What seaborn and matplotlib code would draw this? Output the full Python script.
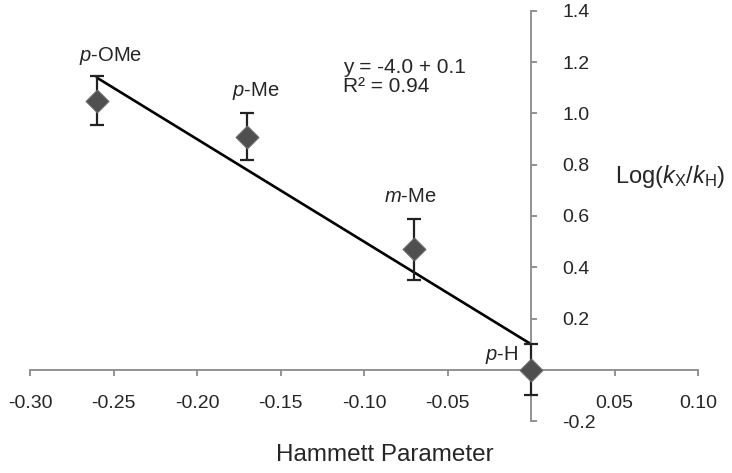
import numpy as np
import pandas as pd
import matplotlib
matplotlib.use("Agg")
import matplotlib.pyplot as plt
import seaborn as sns

# values
substituents = ["p-OMe", "p-Me", "m-Me", "p-H"]
sigma = [-0.26, -0.17, -0.07, 0.0]
log_k = [1.05, 0.91, 0.47, 0.0]
err = [0.095, 0.09, 0.12, 0.10]

# linear fit drawn in the original (y = -4.0x + 0.1)
fit_x = [-0.26, 0.0]
fit_y = [1.14, 0.10]

x_ticks = [-0.30, -0.25, -0.20, -0.15, -0.10, -0.05, 0.0, 0.05, 0.10]
x_ticklabels = ["-0.30", "-0.25", "-0.20", "-0.15", "-0.10", "-0.05", "", "0.05", "0.10"]
y_ticks = [-0.2, 0.0, 0.2, 0.4, 0.6, 0.8, 1.0, 1.2, 1.4]
y_ticklabels = ["-0.2", "", "0.2", "0.4", "0.6", "0.8", "1.0", "1.2", "1.4"]

df = pd.DataFrame({"sub": substituents, "sigma": sigma, "logk": log_k, "err": err})
fit = pd.DataFrame({"x": fit_x, "y": fit_y})

sns.set_style("white")
plt.rcParams["font.family"] = ["Liberation Sans", "DejaVu Sans"]
plt.rcParams["mathtext.fontset"] = "custom"
plt.rcParams["mathtext.rm"] = "Liberation Sans"
plt.rcParams["mathtext.it"] = "Liberation Sans:italic"

fig = plt.figure(figsize=(7.32, 4.73), dpi=100)
ax = fig.add_axes([30 / 732, 1 - 421 / 473, 668 / 732, 410 / 473])

sns.lineplot(data=fit, x="x", y="y", color="black", linewidth=1.9, ax=ax, zorder=2)
ax.errorbar(df["sigma"], df["logk"], yerr=df["err"], fmt="none", ecolor="#222222",
            elinewidth=1.6, capsize=5, capthick=1.6, zorder=3)
sns.scatterplot(data=df, x="sigma", y="logk", marker="D", s=135, color="#4f4f4f",
                edgecolor="#6a6a6a", linewidth=0.8, ax=ax, zorder=4)

# substituent labels (offsets in pixels from each point)
offsets = {"p-OMe": (14, 45), "p-Me": (9, 46), "m-Me": (-4, 53), "p-H": (-29, 15)}
for _, row in df.iterrows():
    a, b = row["sub"].split("-")
    ax.annotate(f"${a}$-{b}", (row["sigma"], row["logk"]), xytext=offsets[row["sub"]],
                textcoords="offset pixels", ha="center", va="center", fontsize=14.5)

ax.text(0.4686, 0.863, "y = -4.0 + 0.1", transform=ax.transAxes, fontsize=15, va="center")
ax.text(0.4686, 0.815, "R² = 0.94", transform=ax.transAxes, fontsize=15, va="center")

ax.set_xlim(-0.30, 0.10)
ax.set_ylim(-0.2, 1.4)

ax.spines["top"].set_visible(False)
ax.spines["left"].set_visible(False)
ax.spines["right"].set_position(("data", 0))
ax.spines["bottom"].set_position(("data", 0))
for s in ["right", "bottom"]:
    ax.spines[s].set_color("#8a8a8a")
    ax.spines[s].set_linewidth(1.3)

ax.yaxis.tick_right()
ax.set_xticks(x_ticks)
ax.set_xticklabels(x_ticklabels)
ax.set_yticks(y_ticks)
ax.set_yticklabels(y_ticklabels)
ax.tick_params(axis="x", direction="out", length=4.5, width=1.3, color="#8a8a8a",
               pad=14, labelsize=14, bottom=True)
ax.tick_params(axis="y", direction="out", length=4.5, width=1.3, color="#8a8a8a",
               pad=18, labelsize=14, right=True, left=False)

ax.set_xlabel("Hammett Parameter", fontsize=17.5)
ax.xaxis.set_label_coords((385 - 30) / 668, -0.056)
ax.set_ylabel(r"Log($k_{\mathrm{X}}/k_{\mathrm{H}}$)", fontsize=17, rotation=0,
              ha="left", va="center")
ax.yaxis.set_label_coords((615 - 30) / 668, (421 - 177) / 410)

fig.savefig("out.png", dpi=100)
plt.close(fig)
